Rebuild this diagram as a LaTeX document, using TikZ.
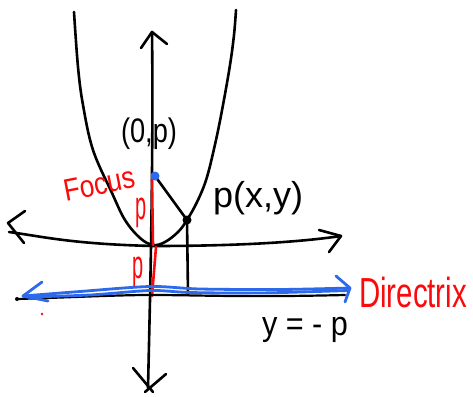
\documentclass[tikz,border=0pt]{standalone}
\usepackage{graphicx}
\usepackage{fontspec}
\setmainfont{Liberation Sans}
\definecolor{sketchblue}{RGB}{45,105,235}
\definecolor{sketchred}{RGB}{250,10,10}
\tikzset{
  ink/.style={line width=2.6pt, line cap=round, line join=round, black},
  redink/.style={line width=2.6pt, line cap=round, sketchred},
  blueink/.style={line width=2.8pt, line cap=round, line join=round, sketchblue},
  lbl/.style={inner sep=0pt, text=black},
  redlbl/.style={inner sep=0pt, text=sketchred},
}
\begin{document}
\begin{tikzpicture}[x=1pt,y=-1pt]
\useasboundingbox (0,0) rectangle (473,396);
\fill[white] (0,0) rectangle (473,396);

% named points
\coordinate (ytop) at (152,32);
\coordinate (ybot) at (148,388);
\coordinate (xleft) at (9,232);
\coordinate (xright) at (341,236);
\coordinate (F) at (155,176);
\coordinate (P) at (187,220);
\coordinate (V) at (153,245);
\coordinate (Pfoot) at (188,295);
\coordinate (dleft) at (23,296);
\coordinate (dright) at (350,288);

% y axis
\draw[ink] (ytop) .. controls (153,110) and (152,200) .. (150,300) -- (ybot);
\draw[ink] (141,48) -- (ytop) -- (167,44);
\draw[ink] (133,368) -- (153,392);
\draw[ink] (166,374) -- (145,392);

% x axis
\draw[ink] (xleft) .. controls (40,236) and (70,244) .. (153,246)
  .. controls (240,246) and (300,242) .. (xright);
\draw[ink] (25,211) -- (8,223) -- (24,243);
\draw[ink] (319,230) -- (xright) -- (329,252);

% parabola
\draw[ink] plot[smooth, tension=0.6] coordinates {(74,12) (78,67) (83,105) (93,150) (112,193) (125,220) (140,238) (153,245) (165,242) (178,232) (187,220) (198,200) (207,177) (216,140) (223,105) (230,65) (234,35) (236,10)};

% focus to P, P down to directrix
\draw[ink] (F) -- (P);
\draw[ink] (P) -- (Pfoot);

% red distance lines
\draw[redink] (152,179) -- (V);
\draw[redink] (156,247) -- (152,296);
\fill[sketchred] (42,314) circle (1.3);

% directrix: black line under blue
\draw[ink, line width=2.2pt] (17,299) .. controls (80,297) and (120,295) .. (150,295)
  .. controls (200,295) and (240,297.5) .. (345,295);
\fill[black] (17,299) circle (2);
\draw[blueink] plot[smooth] coordinates {(dleft) (80,291.5) (150,286.5) (200,289) (280,289.5) (dright)};
\draw[blueink] plot[smooth] coordinates {(26,297) (90,295) (150,290.5) (190,292.5) (260,293) (348,290.5)};
\draw[blueink] (42,282) -- (dleft) -- (48,301);
\draw[blueink] (336,276) -- (dright) -- (345,302);

% dots
\fill[sketchblue] (F) circle (4.5);
\fill[black] (P) circle (4.5);

% labels
\node[lbl, font=\fontsize{34}{34}\selectfont] (fl) at (149,134) {\scalebox{0.8}[1]{(0,p)}};
\node[lbl, font=\fontsize{36}{36}\selectfont] (pl) at (258,198) {p(x,y)};
\node[lbl, font=\fontsize{34}{34}\selectfont] (dl) at (305,330) {\scalebox{0.9}[1]{y = - p}};
\node[redlbl, font=\fontsize{42}{42}\selectfont] (dirl) at (413,292) {\scalebox{0.7}[1]{Directrix}};
\node[redlbl, font=\fontsize{31}{31}\selectfont, rotate=11] (focl) at (99,184) {\scalebox{0.85}[1]{Focus}};
\node[redlbl, font=\fontsize{40}{40}\selectfont] (p1) at (141,213) {\scalebox{0.5}[1]{p}};
\node[redlbl, font=\fontsize{40}{40}\selectfont] (p2) at (138,272) {\scalebox{0.5}[1]{p}};
\end{tikzpicture}
\end{document}
